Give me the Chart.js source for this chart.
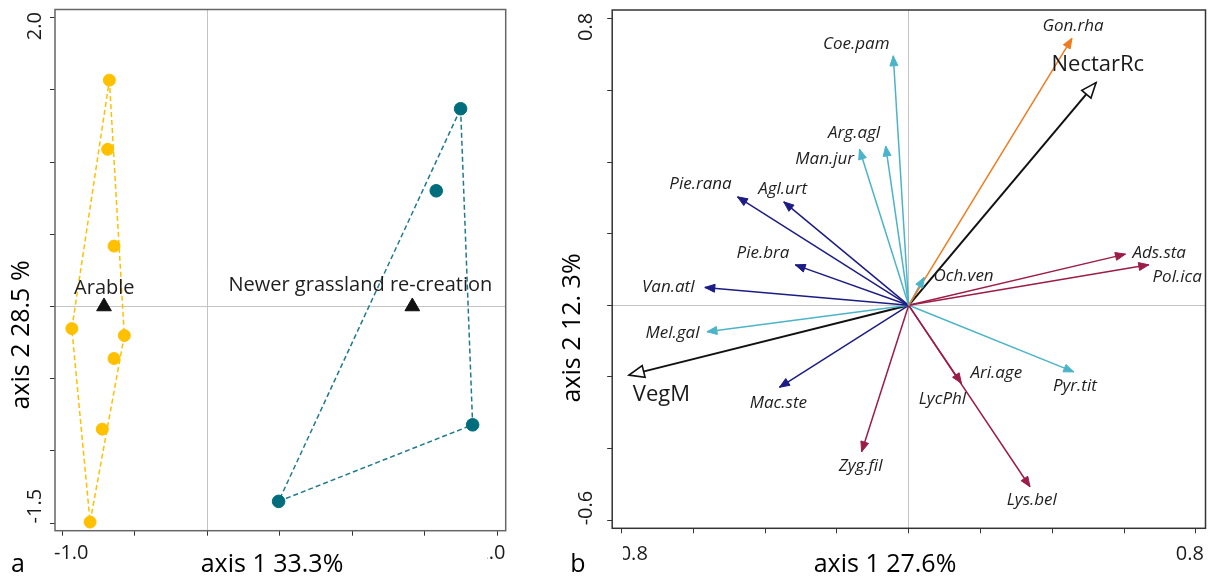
<!DOCTYPE html>
<html lang="en">
<head>
  <meta charset="UTF-8" />
  <title>Ordination: sites and species</title>
  <script src="https://cdn.jsdelivr.net/npm/chart.js"></script>
  <style>
    body { margin: 0; background: #fff; width: 1216px; height: 580px; position: relative; overflow: hidden; }
    .panel { position: absolute; top: 0; height: 580px; }
    #panel-a { left: 0; width: 560px; }
    #panel-b { left: 560px; width: 656px; }
  </style>
</head>
<body>
  <div class="panel" id="panel-a"><canvas id="chart-a" width="560" height="580"></canvas></div>
  <div class="panel" id="panel-b"><canvas id="chart-b" width="656" height="580"></canvas></div>

  <script>
// ---------- panel a: site scores ----------
const arableX = [-0.675, -0.687, -0.643, -0.934, -0.572, -0.643, -0.724, -0.808];
const arableY = [1.567, 1.088, 0.418, -0.153, -0.201, -0.360, -0.849, -1.492];
const arableHull = [0, 4, 7, 3, 0];
const newerX = [1.747, 1.579, 1.830, 0.492];
const newerY = [1.369, 0.801, -0.819, -1.349];
const newerHull = [0, 2, 3, 0];
const groupNames = ['Arable', 'Newer grassland re-creation'];
const centroidX = [-0.712, 1.414];
const centroidY = [0, 0];
const groupLabelX = [-0.71, 1.056];
const groupLabelY = [0.124, 0.15];
const aXTicks = [-1.0, -0.5, 0, 0.5, 1.0, 1.5, 2.0];
const aYTicks = [-1.5, -1.0, -0.5, 0, 0.5, 1.0, 1.5, 2.0];

// ---------- panel b: species and environmental vectors ----------
const speciesNames = ['Gon.rha', 'Coe.pam', 'Arg.agl', 'Man.jur', 'Pie.rana', 'Agl.urt', 'Pie.bra', 'Van.atl',
  'Och.ven', 'Ads.sta', 'Pol.ica', 'Mel.gal', 'Mac.ste', 'Zyg.fil', 'Ari.age', 'Lys.bel', 'Pyr.tit'];
const speciesX = [0.455, -0.043, -0.064, -0.137, -0.477, -0.348, -0.316, -0.568,
  0.043, 0.604, 0.669, -0.562, -0.360, -0.131, 0.147, 0.338, 0.460];
const speciesY = [0.746, 0.697, 0.445, 0.436, 0.303, 0.289, 0.113, 0.050,
  0.078, 0.143, 0.113, -0.074, -0.229, -0.409, -0.218, -0.507, -0.186];
const speciesGroup = ['orange', 'cyan', 'cyan', 'cyan', 'navy', 'navy', 'navy', 'navy',
  'cyan', 'crimson', 'crimson', 'cyan', 'navy', 'crimson', 'crimson', 'crimson', 'cyan'];
const labelNames = ['Gon.rha', 'Coe.pam', 'Arg.agl', 'Man.jur', 'Pie.rana', 'Agl.urt', 'Pie.bra', 'Van.atl',
  'Och.ven', 'Ads.sta', 'Pol.ica', 'Mel.gal', 'Mac.ste', 'Zyg.fil', 'Ari.age', 'Lys.bel', 'Pyr.tit', 'LycPhl'];
const labelX = [0.458, -0.146, -0.152, -0.234, -0.580, -0.351, -0.406, -0.670,
  0.153, 0.698, 0.748, -0.658, -0.363, -0.134, 0.244, 0.343, 0.463, 0.094];
const labelY = [0.780, 0.729, 0.481, 0.408, 0.338, 0.324, 0.145, 0.050,
  0.082, 0.145, 0.078, -0.078, -0.274, -0.449, -0.190, -0.544, -0.227, -0.262];
const envNames = ['NectarRc', 'VegM'];
const envX = [0.522, -0.779];
const envY = [0.622, -0.195];
const envLabelX = [0.527, -0.689];
const envLabelY = [0.671, -0.251];
const bXTicks = [-0.8, -0.6, -0.4, -0.2, 0, 0.2, 0.4, 0.6, 0.8];
const bYTicks = [-0.6, -0.4, -0.2, 0, 0.2, 0.4, 0.6, 0.8];

const colors = { orange: '#ef7b1e', cyan: '#4bb4c8', navy: '#1c1c84', crimson: '#9c1c48' };
const FONT = '"Open Sans", "DejaVu Sans", sans-serif';

const pts = (xs, ys) => xs.map((x, i) => ({ x: x, y: ys[i] }));

// scales that only draw tick marks and a grey line at zero
function makeScale(min, max, ticks, size, horizontal) {
  return {
    type: 'linear', min: min, max: max,
    afterBuildTicks: s => { s.ticks = ticks.map(v => ({ value: v })); },
    afterFit: s => { if (horizontal) s.height = size; else s.width = size; },
    ticks: { display: false },
    border: { display: false },
    grid: {
      drawOnChartArea: true, drawTicks: true, tickLength: 5,
      color: c => (c.tick && c.tick.value === 0 ? '#c4c4c4' : 'rgba(0,0,0,0)'),
      tickColor: '#333', lineWidth: 1
    }
  };
}

// axis box, tick labels, titles
const frame = {
  id: 'frame',
  afterDraw(chart, args, o) {
    const { ctx, chartArea: a, scales } = chart;
    ctx.save();
    ctx.strokeStyle = o.boxColor;
    ctx.lineWidth = 1.5;
    ctx.strokeRect(a.left, a.top, a.right - a.left, a.bottom - a.top);
    ctx.fillStyle = '#1a1a1a';
    ctx.textBaseline = 'middle';
    ctx.textAlign = 'center';
    ctx.font = '20px ' + FONT;
    o.yLabels.forEach(l => {
      ctx.save();
      ctx.translate(o.yLabelX, scales.y.getPixelForValue(l.v) + l.off);
      ctx.rotate(-Math.PI / 2);
      ctx.fillText(l.t, 0, 0);
      ctx.restore();
    });
    o.xLabels.forEach(l => {
      ctx.save();
      if (l.clip !== undefined) {
        ctx.beginPath();
        ctx.rect(l.clip, 0, chart.width - l.clip, chart.height);
        ctx.clip();
      }
      ctx.fillText(l.t, scales.x.getPixelForValue(l.v) + l.off, o.xLabelY);
      ctx.restore();
    });
    ctx.font = '25px ' + FONT;
    ctx.fillStyle = '#000';
    ctx.fillText(o.xTitle, o.xTitlePos[0], o.xTitlePos[1]);
    ctx.fillText(o.letter, o.letterPos[0], o.letterPos[1]);
    ctx.save();
    ctx.translate(o.yTitlePos[0], o.yTitlePos[1]);
    ctx.rotate(-Math.PI / 2);
    ctx.fillText(o.yTitle, 0, 0);
    ctx.restore();
    ctx.restore();
  }
};

// text placed in data coordinates
const dataText = {
  id: 'dataText',
  afterDatasetsDraw(chart, args, o) {
    const { ctx, scales } = chart;
    ctx.save();
    ctx.textAlign = 'center';
    ctx.textBaseline = 'middle';
    o.groups.forEach(g => {
      ctx.font = g.font;
      ctx.fillStyle = g.color;
      g.names.forEach((n, i) => {
        ctx.fillText(n, scales.x.getPixelForValue(g.xs[i]), scales.y.getPixelForValue(g.ys[i]));
      });
    });
    ctx.restore();
  }
};

// arrow heads at the end of every two-point line
const arrowHeads = {
  id: 'arrowHeads',
  afterDatasetsDraw(chart) {
    const ctx = chart.ctx;
    chart.data.datasets.forEach((ds, i) => {
      if (!ds.head) return;
      const el = chart.getDatasetMeta(i).data;
      const x0 = el[0].x, y0 = el[0].y, x1 = el[1].x, y1 = el[1].y;
      const a = Math.atan2(y1 - y0, x1 - x0);
      const h = ds.head;
      const bx = x1 - h.len * Math.cos(a), by = y1 - h.len * Math.sin(a);
      ctx.save();
      ctx.beginPath();
      ctx.moveTo(x1, y1);
      ctx.lineTo(bx + h.half * Math.sin(a), by - h.half * Math.cos(a));
      ctx.lineTo(bx - h.half * Math.sin(a), by + h.half * Math.cos(a));
      ctx.closePath();
      ctx.fillStyle = h.fill;
      ctx.fill();
      ctx.lineJoin = 'miter';
      ctx.lineWidth = h.lw;
      ctx.strokeStyle = ds.borderColor;
      ctx.stroke();
      ctx.restore();
    });
  }
};

// ---------- chart a ----------
const yellow = '#ffc000';
const teal = '#006d7c';
new Chart(document.getElementById('chart-a'), {
  type: 'scatter',
  data: {
    datasets: [
      { data: pts(centroidX, centroidY), pointStyle: 'triangle', pointRadius: 8.5, backgroundColor: '#111', borderColor: '#111', order: 0 },
      { data: pts(arableX, arableY), pointRadius: 6, backgroundColor: yellow, borderColor: yellow, order: 1 },
      { data: pts(newerX, newerY), pointRadius: 6.3, backgroundColor: teal, borderColor: teal, order: 1 },
      { data: arableHull.map(i => ({ x: arableX[i], y: arableY[i] })), showLine: true, pointRadius: 0,
        borderColor: yellow, borderWidth: 1.5, borderDash: [5, 3], order: 2 },
      { data: newerHull.map(i => ({ x: newerX[i], y: newerY[i] })), showLine: true, pointRadius: 0,
        borderColor: '#1f7a8a', borderWidth: 1.5, borderDash: [5, 3], order: 2 }
    ]
  },
  options: {
    responsive: false, animation: false,
    layout: { padding: { left: 0, top: 7.4, right: 54.3, bottom: 0 } },
    plugins: {
      legend: { display: false }, tooltip: { enabled: false },
      frame: {
        boxColor: '#666',
        yLabelX: 35, yLabels: [{ v: 2.0, t: '2.0', off: 8.5 }, { v: -1.5, t: '-1.5', off: -17 }],
        xLabelY: 553, xLabels: [{ v: -1.0, t: '-1.0', off: 9 }, { v: 2.0, t: '2.0', off: -6, clip: 487.5 }],
        xTitle: 'axis 1 33.3%', xTitlePos: [272, 565],
        yTitle: 'axis 2 28.5 %', yTitlePos: [21.5, 335],
        letter: 'a', letterPos: [18, 565]
      },
      dataText: { groups: [{ names: groupNames, xs: groupLabelX, ys: groupLabelY, font: '20px ' + FONT, color: '#1e1e1e' }] }
    },
    scales: {
      x: makeScale(-1.050, 2.058, aXTicks, 49.3, true),
      y: makeScale(-1.552, 2.056, aYTicks, 55, false)
    }
  },
  plugins: [frame, dataText]
});

// ---------- chart b ----------
const arrowSets = speciesNames.map((n, i) => ({
  data: [{ x: 0, y: 0 }, { x: speciesX[i], y: speciesY[i] }],
  showLine: true, pointRadius: 0, borderWidth: 1.5,
  borderColor: colors[speciesGroup[i]],
  head: { len: 10, half: 4, fill: colors[speciesGroup[i]], lw: 1 }
}));
envNames.forEach((n, i) => arrowSets.push({
  data: [{ x: 0, y: 0 }, { x: envX[i], y: envY[i] }],
  showLine: true, pointRadius: 0, borderWidth: 2, borderColor: '#111',
  head: { len: 15, half: 6, fill: '#fff', lw: 1.6 }
}));

new Chart(document.getElementById('chart-b'), {
  type: 'scatter',
  data: { datasets: arrowSets },
  options: {
    responsive: false, animation: false,
    layout: { padding: { left: 0, top: 10, right: 10.5, bottom: 0 } },
    plugins: {
      legend: { display: false }, tooltip: { enabled: false },
      frame: {
        boxColor: '#333',
        yLabelX: 26, yLabels: [{ v: 0.8, t: '0.8', off: 8 }, { v: -0.6, t: '-0.6', off: -12 }],
        xLabelY: 554, xLabels: [{ v: -0.8, t: '-0.8', off: 9, clip: 63 }, { v: 0.8, t: '0.8', off: -6 }],
        xTitle: 'axis 1 27.6%', xTitlePos: [325, 565],
        yTitle: 'axis 2 12. 3%', yTitlePos: [12.6, 328],
        letter: 'b', letterPos: [18, 565]
      },
      dataText: { groups: [
        { names: labelNames, xs: labelX, ys: labelY, font: 'italic 17px ' + FONT, color: '#1e1e1e' },
        { names: envNames, xs: envLabelX, ys: envLabelY, font: '22px ' + FONT, color: '#1a1a1a' }
      ] }
    },
    scales: {
      x: makeScale(-0.826, 0.827, bXTicks, 51.7, true),
      y: makeScale(-0.623, 0.825, bYTicks, 52.2, false)
    }
  },
  plugins: [frame, arrowHeads, dataText]
});
  </script>
</body>
</html>
